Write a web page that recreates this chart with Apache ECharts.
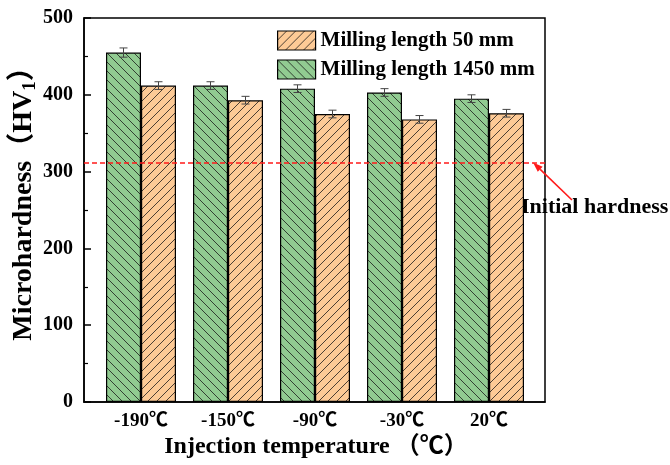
<!DOCTYPE html>
<html>
<head>
<meta charset="utf-8">
<script src="https://cdn.jsdelivr.net/npm/echarts@6/dist/echarts.min.js"></script>
<style>
  html, body { margin: 0; padding: 0; background: #fff; }
  #chart { width: 670px; height: 465px; }
</style>
</head>
<body>
<div id="chart"></div>
<script>
// Injection temperatures (x categories)
const categories = ['-190℃', '-150℃', '-90℃', '-30℃', '20℃'];
// Microhardness HV1 after milling 1450 mm and 50 mm
const hv1450 = [455, 412, 408, 403, 395];
const hv50 = [412, 393, 375, 368, 376];
// Standard deviation (error bars)
const err1450 = [6, 5, 5, 5, 5];
const err50 = [5, 5, 5, 5, 5];
// Initial hardness reference level
const initialHardness = 312;
// Y-axis ticks
const yMin = 0, yMax = 500, yStep = 100;

const FONT = '"Liberation Serif", "Times New Roman", "Noto Sans CJK SC", serif';

// Hatched fill: background colour plus diagonal lines
function hatch(bg, dir) {
  const s = 9;
  const c = document.createElement('canvas');
  c.width = s; c.height = s;
  const g = c.getContext('2d');
  g.fillStyle = bg;
  g.fillRect(0, 0, s, s);
  g.strokeStyle = 'rgba(20,20,20,0.85)';
  g.lineWidth = 0.9;
  for (let k = -1; k <= 1; k++) {
    g.beginPath();
    if (dir === 'back') {
      g.moveTo(-1, -1 + k * s);
      g.lineTo(s + 1, s + 1 + k * s);
    } else {
      g.moveTo(-1, s + 1 + k * s);
      g.lineTo(s + 1, -1 + k * s);
    }
    g.stroke();
  }
  return { image: c, repeat: 'repeat' };
}

const greenFill = hatch('#91cb91', 'back');
const orangeFill = hatch('#fdca96', 'fwd');
const BAR_W = 35;

function errorSeries(values, errs, offset) {
  return {
    type: 'custom',
    xAxisIndex: 1, yAxisIndex: 1,
    z: 5,
    silent: true,
    data: values.map((v, i) => [i, v, errs[i]]),
    renderItem: function (params, api) {
      const i = api.value(0), v = api.value(1), e = api.value(2);
      const hi = api.coord([i, v + e]);
      const lo = api.coord([i, v - e]);
      const x = hi[0] + offset;
      const cap = 4;
      const st = { stroke: '#444', lineWidth: 1 };
      return {
        type: 'group',
        children: [
          { type: 'line', shape: { x1: x, y1: hi[1], x2: x, y2: lo[1] }, style: st },
          { type: 'line', shape: { x1: x - cap, y1: hi[1], x2: x + cap, y2: hi[1] }, style: st },
          { type: 'line', shape: { x1: x - cap, y1: lo[1], x2: x + cap, y2: lo[1] }, style: st }
        ]
      };
    }
  };
}

const chart = echarts.init(document.getElementById('chart'), null, { renderer: 'canvas' });

const option = {
  backgroundColor: '#fff',
  animation: false,
  textStyle: { fontFamily: FONT, color: '#000' },
  grid: [
    { left: 84, right: 125, top: 18, bottom: 63, show: true, borderColor: '#000', borderWidth: 1.5, backgroundColor: 'transparent' },
    { left: 97.5, right: 137.5, top: 18, bottom: 63 }
  ],
  xAxis: [
    {
      gridIndex: 0, type: 'value', min: 0, max: 1,
      axisLine: { show: true, lineStyle: { color: '#000', width: 1.5 } },
      axisTick: { show: false }, axisLabel: { show: false }, splitLine: { show: false }
    },
    {
      gridIndex: 1, type: 'category', data: categories,
      axisLine: { show: false }, axisTick: { show: false },
      axisLabel: { margin: 10, fontFamily: FONT, fontSize: 19, fontWeight: 'bold', color: '#000' }
    }
  ],
  yAxis: [
    {
      gridIndex: 0, type: 'value', min: yMin, max: yMax, interval: yStep,
      axisLine: { show: true, lineStyle: { color: '#000', width: 1.5 } },
      axisTick: { show: true, inside: true, length: 7, lineStyle: { color: '#000', width: 1.5 } },
      minorTick: { show: true, splitNumber: 2, length: 4, lineStyle: { color: '#000', width: 1.2 } },
      axisLabel: { margin: 11, fontFamily: FONT, fontSize: 20, fontWeight: 'bold', color: '#000' },
      splitLine: { show: false }
    },
    {
      gridIndex: 1, type: 'value', min: yMin, max: yMax, interval: yStep, show: false
    }
  ],
  legend: {
    orient: 'vertical', left: 272, top: 25,
    itemWidth: 38, itemHeight: 19, itemGap: 8, itemTextGap: 11,
    icon: 'rect',
    data: ['Milling length 50 mm', 'Milling length 1450 mm'],
    itemStyle: { borderColor: '#000', borderWidth: 1.2 },
    textStyle: { fontFamily: FONT, fontSize: 21, fontWeight: 'bold', color: '#000' }
  },
  series: [
    {
      name: 'Milling length 1450 mm', type: 'bar',
      xAxisIndex: 1, yAxisIndex: 1,
      data: hv1450, barWidth: BAR_W, barGap: '0%',
      itemStyle: { color: greenFill, borderColor: '#000', borderWidth: 1.2 }
    },
    {
      name: 'Milling length 50 mm', type: 'bar',
      xAxisIndex: 1, yAxisIndex: 1,
      data: hv50, barWidth: BAR_W, barGap: '0%',
      itemStyle: { color: orangeFill, borderColor: '#000', borderWidth: 1.2 }
    },
    errorSeries(hv1450, err1450, -BAR_W / 2),
    errorSeries(hv50, err50, BAR_W / 2),
    {
      type: 'line', xAxisIndex: 0, yAxisIndex: 0, data: [], silent: true,
      markLine: {
        symbol: 'none', silent: true, label: { show: false },
        lineStyle: { color: '#ff1a1a', type: [5, 3], width: 1.6 },
        data: [{ yAxis: initialHardness }]
      }
    }
  ]
};
chart.setOption(option);

// Axis titles and the annotation for the initial hardness level
const yLine = chart.convertToPixel({ yAxisIndex: 0 }, initialHardness);
const tip = [533, yLine];
const tail = [572, 200];
const ang = Math.atan2(tail[1] - tip[1], tail[0] - tip[0]);
const hl = 10, hw = 3.5;
const bx = tip[0] + hl * Math.cos(ang), by = tip[1] + hl * Math.sin(ang);
const px = -Math.sin(ang) * hw, py = Math.cos(ang) * hw;

chart.setOption({
  graphic: [
    {
      type: 'text', x: 316, y: 447,
      style: {
        text: 'Injection temperature （℃）',
        font: 'bold 24px ' + FONT, fill: '#000',
        align: 'center', verticalAlign: 'middle'
      }
    },
    {
      type: 'text', x: 24, y: 197, rotation: Math.PI / 2,
      style: {
        text: 'Microhardness（HV{sub|1}）',
        font: 'bold 28px ' + FONT, fill: '#000',
        align: 'center', verticalAlign: 'middle',
        rich: { sub: { font: 'bold 19px ' + FONT, verticalAlign: 'bottom', padding: [12, 0, 0, 0] } }
      }
    },
    {
      type: 'line', silent: true,
      shape: { x1: tail[0], y1: tail[1], x2: bx, y2: by },
      style: { stroke: '#ff1a1a', lineWidth: 1.6 }
    },
    {
      type: 'polygon', silent: true,
      shape: { points: [tip, [bx + px, by + py], [bx - px, by - py]] },
      style: { fill: '#ff1a1a' }
    },
    {
      type: 'text', x: 521, y: 207,
      style: {
        text: 'Initial hardness', font: 'bold 22px ' + FONT, fill: '#000',
        align: 'left', verticalAlign: 'middle'
      }
    }
  ]
});
</script>
</body>
</html>
